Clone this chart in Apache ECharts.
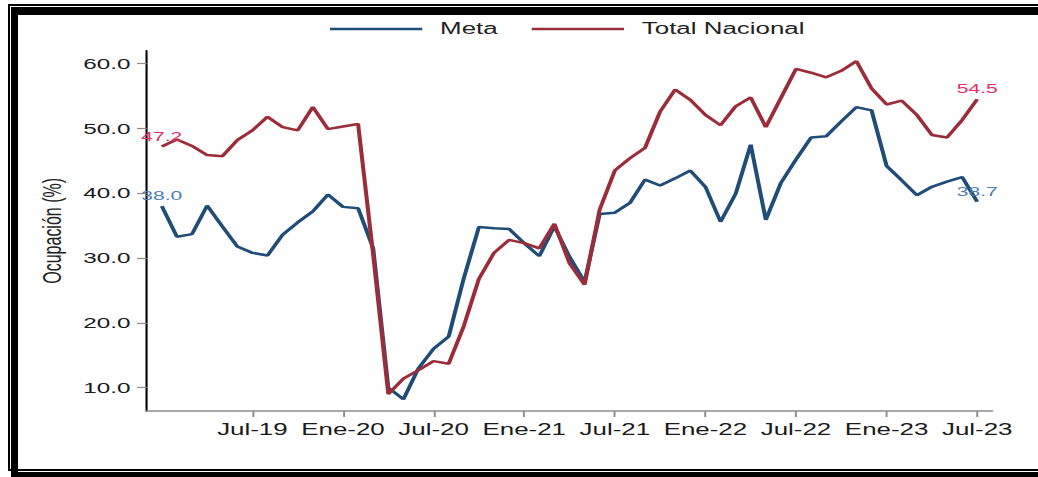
<!DOCTYPE html>
<html lang="es">
<head>
<meta charset="utf-8">
<title>Ocupación</title>
<script src="https://cdn.jsdelivr.net/npm/echarts@6/dist/echarts.min.js"></script>
<style>
    html, body { margin: 0; padding: 0; background: #fff; }
    body { width: 1038px; height: 477px; position: relative; overflow: hidden; }
    /* the original picture is stretched sideways, so the chart is too */
    #main { position: absolute; left: 0; top: 0; width: 641px; height: 477px;
            transform: scaleX(1.6193); transform-origin: 0 0; }
    .frame1 { position: absolute; left: 8px; top: 4px; width: 1100px; height: 463px;
              border: 2px solid #000; border-right: none; pointer-events: none; }
    .frame2 { position: absolute; left: 11px; top: 7px; width: 1100px; height: 457px;
              border-top: 8px solid #000; border-left: 7px solid #000; border-bottom: 5px solid #000;
              pointer-events: none; }
</style>
</head>
<body>
<div id="main"></div>
<div class="frame1"></div>
<div class="frame2"></div>

<script type="text/javascript">
    var months = [
        'Ene-19', 'Feb-19', 'Mar-19', 'Abr-19', 'May-19', 'Jun-19', 'Jul-19', 'Ago-19', 'Sep-19', 'Oct-19', 'Nov-19', 'Dic-19',
        'Ene-20', 'Feb-20', 'Mar-20', 'Abr-20', 'May-20', 'Jun-20', 'Jul-20', 'Ago-20', 'Sep-20', 'Oct-20', 'Nov-20', 'Dic-20',
        'Ene-21', 'Feb-21', 'Mar-21', 'Abr-21', 'May-21', 'Jun-21', 'Jul-21', 'Ago-21', 'Sep-21', 'Oct-21', 'Nov-21', 'Dic-21',
        'Ene-22', 'Feb-22', 'Mar-22', 'Abr-22', 'May-22', 'Jun-22', 'Jul-22', 'Ago-22', 'Sep-22', 'Oct-22', 'Nov-22', 'Dic-22',
        'Ene-23', 'Feb-23', 'Mar-23', 'Abr-23', 'May-23', 'Jun-23', 'Jul-23'
    ];

    var meta = [
        38.0, 33.3, 33.7, 38.1, 34.9, 31.8, 30.8, 30.4, 33.6, 35.5, 37.2, 39.8,
        37.9, 37.7, 31.5, 10.0, 8.2, 13.0, 16.0, 17.9, 26.9, 34.8, 34.6, 34.5,
        32.3, 30.3, 34.9, 30.2, 26.3, 36.8, 37.0, 38.5, 42.1, 41.2, 42.3, 43.5,
        41.0, 35.6, 39.9, 47.5, 35.9, 41.6, 45.2, 48.6, 48.8, 51.1, 53.3, 52.8,
        44.2, 42.0, 39.7, 41.0, 41.8, 42.5, 38.7
    ];

    var totalNacional = [
        47.2, 48.3, 47.3, 45.9, 45.7, 48.2, 49.7, 51.8, 50.2, 49.7, 53.3, 49.9,
        50.3, 50.7, 30.5, 9.0, 11.4, 12.7, 14.1, 13.7, 19.5, 26.8, 30.8, 32.8,
        32.3, 31.5, 35.3, 29.2, 25.9, 37.5, 43.5, 45.4, 47.0, 52.6, 56.0, 54.4,
        52.1, 50.5, 53.4, 54.8, 50.2, 54.7, 59.2, 58.6, 57.9, 58.9, 60.4, 56.2,
        53.7, 54.3, 52.1, 49.0, 48.6, 51.3, 54.5
    ];

    var yTicks = [10, 20, 30, 40, 50, 60];

    // the axis runs one month past the data on each side
    var cats = [''].concat(months, ['']);
    function pad(arr) { return [null].concat(arr, [null]); }

    // ticks every January and July, starting at Jul-19
    function isHalfYear(index, value) {
        if (value === months[0]) return false;
        return value.indexOf('Ene') === 0 || value.indexOf('Jul') === 0;
    }

    function endLabel(p) {
        if (p.dataIndex === 1 || p.dataIndex === cats.length - 2) {
            return p.value.toFixed(1);
        }
        return '';
    }

    var myChart = echarts.init(document.getElementById('main'), null, { renderer: 'svg' });

    var font = 'Liberation Sans, Arial, sans-serif';

    var option = {
        animation: false,
        textStyle: { fontFamily: font },
        legend: {
            data: ['Meta', 'Total Nacional'],
            left: 203.8,
            top: 21,
            padding: 0,
            icon: 'rect',
            itemWidth: 57,
            itemHeight: 2.5,
            itemGap: 21,
            textStyle: { fontSize: 16, color: '#222', fontFamily: font, padding: [0, 0, 0, 6] }
        },
        grid: {
            left: 90.6,
            right: 28.2,
            top: 50.7,
            bottom: 66
        },
        xAxis: {
            type: 'category',
            data: cats,
            boundaryGap: false,
            axisLine: { lineStyle: { color: '#8c8c8c', width: 1.5 } },
            axisTick: { interval: isHalfYear, length: 6, lineStyle: { color: '#8c8c8c', width: 1.2 } },
            axisLabel: { interval: isHalfYear, fontSize: 16, color: '#1a1a1a', margin: 11, fontFamily: font },
            splitLine: { show: false }
        },
        yAxis: {
            type: 'value',
            min: 6.4,
            max: 62,
            name: 'Ocupación (%)',
            nameLocation: 'middle',
            nameGap: 47,
            nameTextStyle: { fontSize: 16, color: '#222', fontFamily: font },
            axisLine: { show: true, lineStyle: { color: '#000', width: 1.3 } },
            axisTick: { show: true, customValues: yTicks, length: 6, lineStyle: { color: '#8c8c8c', width: 1.2 } },
            axisLabel: {
                customValues: yTicks,
                formatter: function (v) { return v.toFixed(1); },
                fontSize: 15, color: '#1a1a1a', margin: 10, fontFamily: font
            },
            splitLine: { show: false }
        },
        series: [{
            name: 'Meta',
            type: 'line',
            data: pad(meta),
            symbol: 'circle',
            symbolSize: 0,
            showSymbol: true,
            color: '#1f4d78',
            lineStyle: { color: '#1f4d78', width: 2.5 },
            label: { show: true, position: 'top', distance: 4, formatter: endLabel,
                     fontSize: 13, color: '#4a7db3', fontFamily: font },
            emphasis: { disabled: true }
        }, {
            name: 'Total Nacional',
            type: 'line',
            data: pad(totalNacional),
            symbol: 'circle',
            symbolSize: 0,
            showSymbol: true,
            color: '#9b2d3a',
            lineStyle: { color: '#9b2d3a', width: 2.5 },
            label: { show: true, position: 'top', distance: 4, formatter: endLabel,
                     fontSize: 13, color: '#e0306a', fontFamily: font },
            emphasis: { disabled: true }
        }]
    };

    myChart.setOption(option);
</script>
</body>
</html>
